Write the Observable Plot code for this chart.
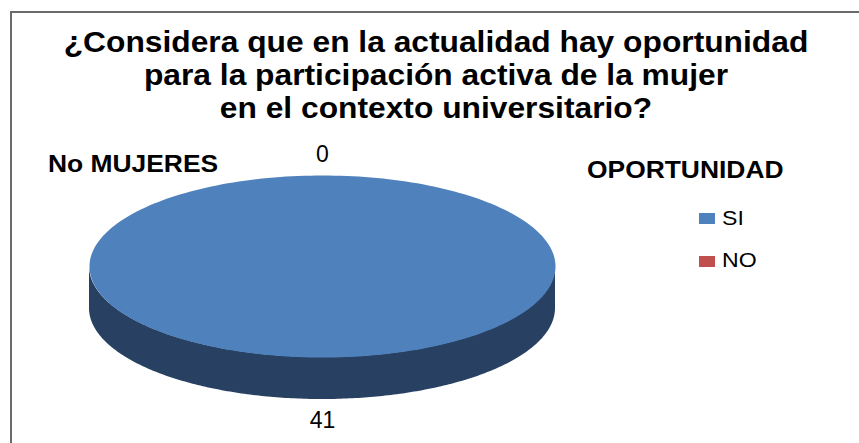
<!DOCTYPE html>
<html><head><meta charset="utf-8">
<script src="https://cdn.jsdelivr.net/npm/d3@7"></script>
<script src="https://cdn.jsdelivr.net/npm/@observablehq/plot@0.6"></script>
<style>
html,body{margin:0;padding:0;background:#fff;}
#wrap{position:relative;width:859px;height:443px;overflow:hidden;font-family:"Liberation Sans",Arial,sans-serif;}
#chart{position:absolute;left:0;top:0;}
.abs{position:absolute;white-space:nowrap;color:#000;line-height:1;transform-origin:0 0;}
#frame{position:absolute;left:10px;top:11px;width:900px;height:500px;border:2px solid #6a6a6a;}
</style></head><body>
<div id="wrap"><div id="frame"></div><div id="chart"></div></div>
<script>
// ---- data ----
const titleLines = [
  "¿Considera que en la actualidad hay oportunidad",
  "para la participación activa de la mujer",
  "en el contexto universitario?"
];
const seriesName = "No MUJERES";
const legendTitle = "OPORTUNIDAD";
const categories = ["SI", "NO"];
const values = [41, 0];

// ---- style ----
const topColors = ["#4F81BD", "#C0504D"];
const sideColors = ["#284162", "#73302E"];
const W = 859, H = 443;
const cx = 322, cy = 266, a = 233, b = 91, depthPx = 42;
const depth = depthPx / b;

const arcs = d3.pie().sort(null).value(d => d)(values);
const N = 240;
const topPts = [], sidePts = [];
arcs.forEach((arc, i) => {
  const s = arc.startAngle, e = arc.endAngle;
  if (e > s) {
    topPts.push({s: i, x: 0, y: 0});
    for (let k = 0; k <= N; k++) {
      const t = s + (e - s) * k / N;
      topPts.push({s: i, x: Math.sin(t), y: Math.cos(t)});
    }
  }
  const lo = Math.max(s, Math.PI / 2), hi = Math.min(e, 3 * Math.PI / 2);
  if (hi > lo) {
    for (let k = 0; k <= N; k++) {
      const t = lo + (hi - lo) * k / N;
      sidePts.push({s: i, x: Math.sin(t), y1: Math.cos(t) - depth, y2: Math.cos(t)});
    }
  }
});

const midAngle = d => (d.startAngle + d.endAngle) / 2;
const labelX = d => Math.sin(midAngle(d)) * 1.1;
const labelY = d => { const c = Math.cos(midAngle(d)); return c * 1.23 - (c < 0 ? depth : 0); };

const plot = Plot.plot({
  width: W, height: H, margin: 0,
  style: {fontFamily: "Liberation Sans, Arial, sans-serif", background: "transparent"},
  x: {domain: [-cx / a, (W - cx) / a], axis: null},
  y: {domain: [(cy - H) / b, cy / b], axis: null},
  color: {type: "identity"},
  marks: [
    Plot.areaY(sidePts, {x: "x", y1: "y1", y2: "y2", z: "s", fill: d => sideColors[d.s], curve: "linear"}),
    ...arcs.map((arc, i) => Plot.line(topPts.filter(d => d.s === i), {x: "x", y: "y", fill: topColors[i], stroke: "none", curve: "linear-closed"})),
    Plot.text(arcs, {x: labelX, y: labelY, text: d => String(d.data), fontSize: 23, fill: "#000", fontFamily: "Liberation Sans, Arial, sans-serif"})
  ]
});
document.getElementById("chart").appendChild(plot);

// ---- titles & legend (HTML) ----
const wrap = document.getElementById("wrap");
function addText(txt, css) {
  const el = document.createElement("div");
  el.className = "abs";
  el.textContent = txt;
  Object.assign(el.style, css);
  wrap.appendChild(el);
  return el;
}
const t = document.createElement("div");
t.className = "abs";
Object.assign(t.style, {left: "36px", width: "800px", top: "26px", textAlign: "center", fontWeight: "bold", fontSize: "29px", lineHeight: "33px", transform: "scaleX(1.095)", transformOrigin: "400px 0"});
t.innerHTML = titleLines.map(l => `<div>${l}</div>`).join("");
wrap.appendChild(t);

addText(seriesName, {left: "48px", top: "152px", fontWeight: "bold", fontSize: "24px", transform: "scaleX(1.1)"});
addText(legendTitle, {left: "587px", top: "158px", fontWeight: "bold", fontSize: "24px", transform: "scaleX(1.1)"});
const keyTops = [213, 256];
const textTops = [207, 249];
categories.forEach((c, i) => {
  const r = document.createElement("div");
  Object.assign(r.style, {position: "absolute", left: "699px", top: keyTops[i] + "px", width: "16px", height: "11px", background: topColors[i]});
  wrap.appendChild(r);
  addText(c, {left: "722px", top: textTops[i] + "px", fontSize: "21px", transform: "scaleX(1.1)"});
});
</script>
</body></html>
